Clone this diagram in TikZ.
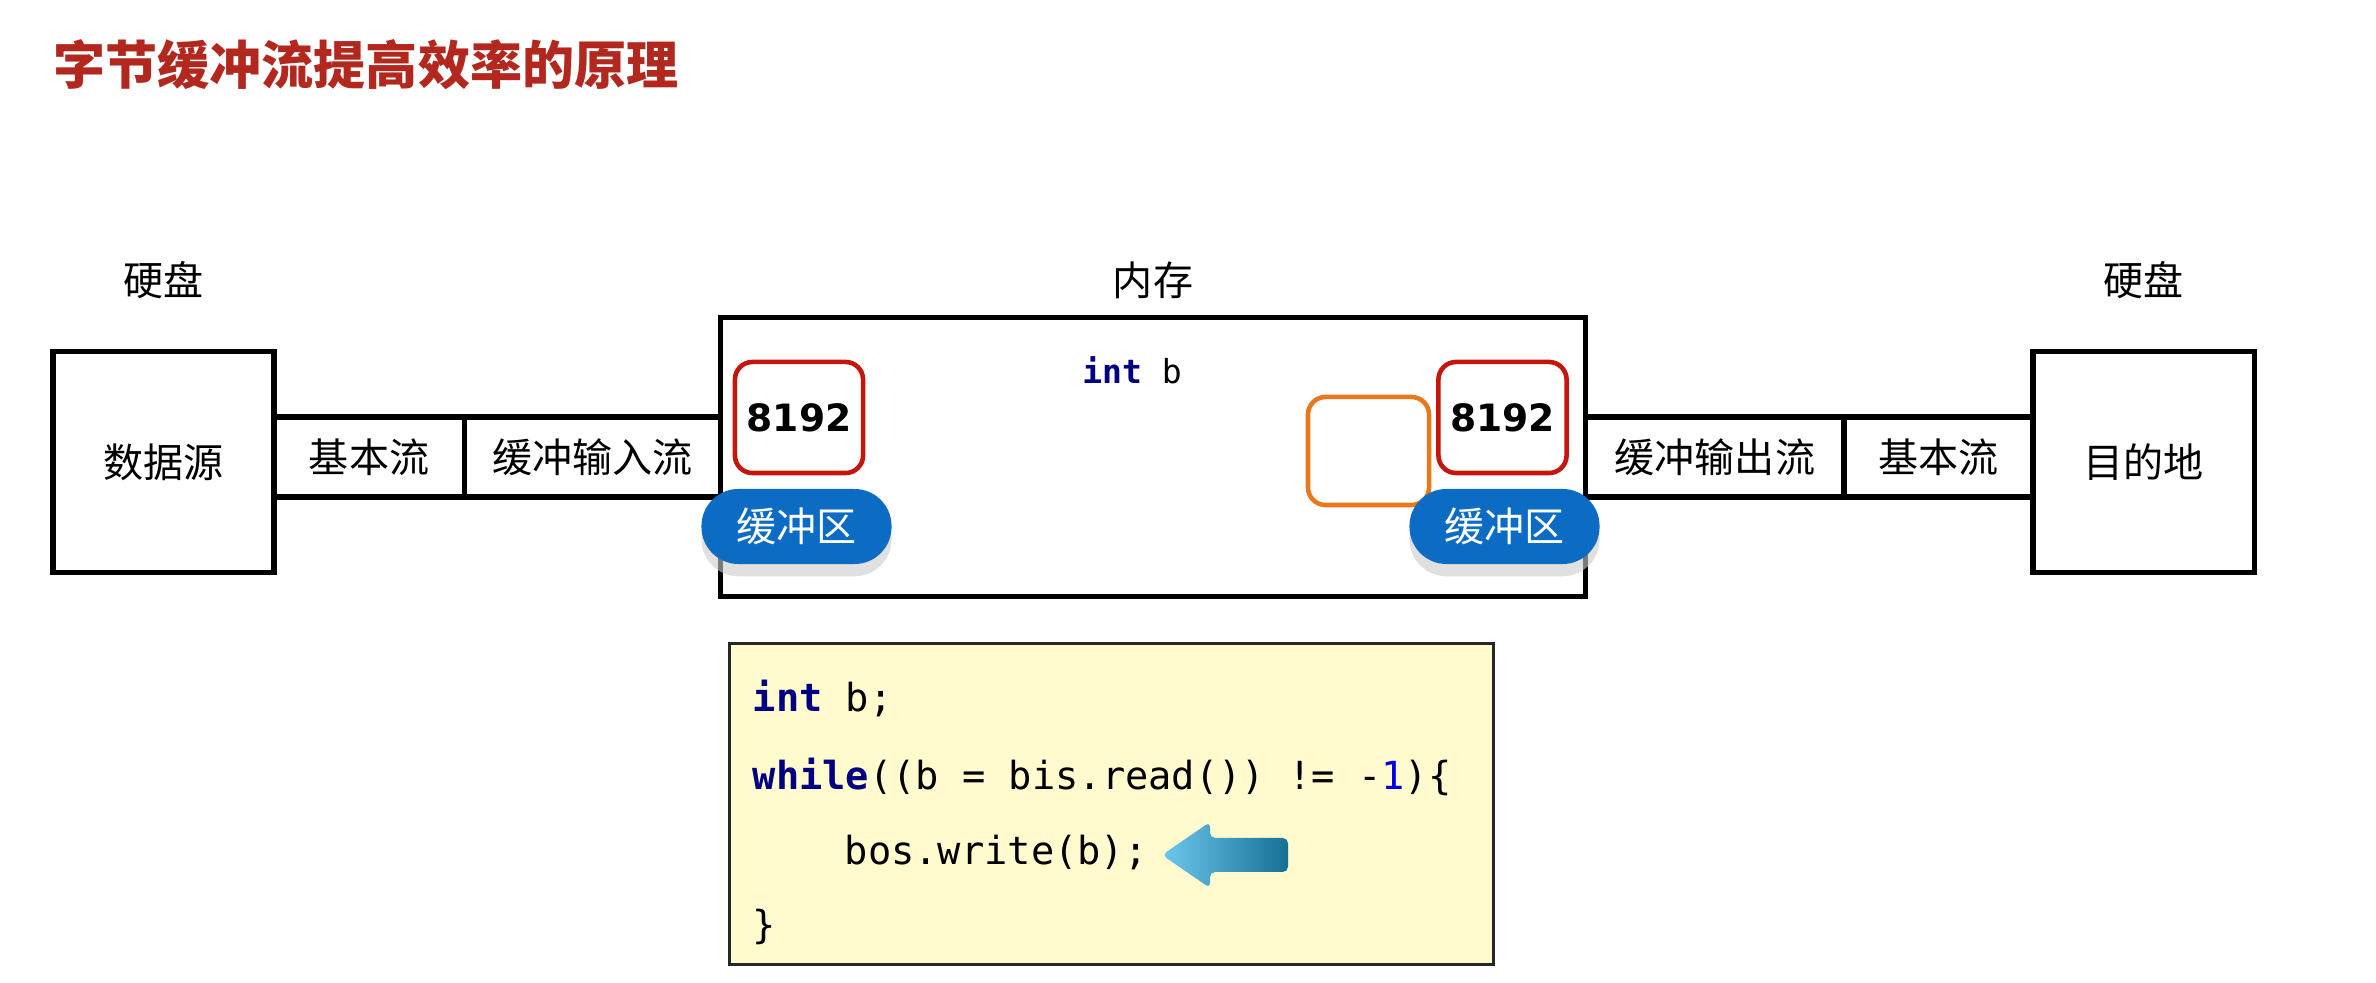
\documentclass[tikz,border=0pt]{standalone}
\usepackage{fontspec}
\usepackage{xcolor}
\usepackage{tikz}
\usetikzlibrary{positioning,shadows}
\newfontfamily\cjk{Noto Sans CJK SC}
\newfontfamily\codefont{DejaVu Sans Mono}
\newfontfamily\numfont{DejaVu Sans}
\definecolor{TitleRed}{RGB}{178,40,30}
\definecolor{BufRed}{RGB}{196,22,12}
\definecolor{ByteOrange}{RGB}{232,120,30}
\definecolor{PillBlue}{RGB}{12,108,196}
\definecolor{CodeYellow}{RGB}{255,251,207}
\definecolor{KwNavy}{RGB}{0,0,128}
\definecolor{NumBlue}{RGB}{0,0,230}
\definecolor{ArrowLight}{RGB}{110,200,238}
\definecolor{ArrowDark}{RGB}{22,112,150}
\tikzset{
  disk/.style={rectangle, draw=black, line width=1.5pt, outer sep=0pt,
    minimum width=2.21cm, minimum height=2.21cm, font=\cjk\fontsize{11.4}{13}\selectfont},
  pipe/.style={rectangle, draw=black, line width=1.5pt, outer sep=0pt, inner sep=0pt,
    minimum height=0.80cm, font=\cjk\fontsize{11.4}{13}\selectfont},
  memory/.style={rectangle, draw=black, line width=1.5pt, outer sep=0pt,
    minimum width=8.65cm, minimum height=2.79cm},
  lbl/.style={font=\cjk\fontsize{11.4}{13}\selectfont},
  bufsize/.style={rectangle, rounded corners=5pt, draw=BufRed, line width=1.3pt, fill=white,
    minimum width=1.21cm, minimum height=1.11cm, font=\numfont\bfseries\fontsize{10.7}{12}\selectfont},
  bytebox/.style={rectangle, rounded corners=5pt, draw=ByteOrange, line width=1.3pt,
    minimum width=1.21cm, minimum height=1.08cm},
  pill/.style={rectangle, rounded corners=0.37cm, fill=PillBlue, text=white,
    minimum width=1.90cm, minimum height=0.75cm, font=\cjk\fontsize{11.4}{13}\selectfont,
    drop shadow={shadow xshift=0pt, shadow yshift=-3.5pt, fill=black!20, opacity=0.6}},
  codebox/.style={rectangle, draw=black!85, fill=CodeYellow, line width=0.9pt,
    minimum width=7.63cm, minimum height=3.20cm},
  codeline/.style={anchor=base west, inner sep=0pt, font=\codefont\fontsize{11}{13}\selectfont}
}
\newcommand{\kw}[1]{{\bfseries\color{KwNavy}#1}}

\begin{document}
\begin{tikzpicture}[x=0.01cm, y=-0.01cm]
  \useasboundingbox (0,0) rectangle (2376,983);
  \node[anchor=west, inner sep=0pt, text=TitleRed, font=\cjk\bfseries\fontsize{14.8}{16}\selectfont]
    (title) at (53,65) {字节缓冲流提高效率的原理};

  % stream chain
  \node[disk] (src) at (163.5,462) {数据源};
  \node[pipe, minimum width=1.90cm, right=0pt of src, yshift=0.05cm] (basicin) {基本流};
  \node[pipe, minimum width=2.56cm, right=0pt of basicin] (bufin) {缓冲输入流};
  \node[memory, right=0pt of bufin] (mem) {};
  \node[pipe, minimum width=2.58cm, right=0pt of mem] (bufout) {缓冲输出流};
  \node[pipe, minimum width=1.89cm, right=0pt of bufout] (basicout) {基本流};
  \node[disk, right=0pt of basicout, yshift=-0.05cm] (dst) {目的地};

  \node[lbl] (disksrc) at (src.north |- 0,280) {硬盘};
  \node[lbl] (memlbl) at (mem.north |- 0,280) {内存};
  \node[lbl] (diskdst) at (dst.north |- 0,280) {硬盘};

  % inside memory
  \node[font=\codefont\fontsize{9.4}{11}\selectfont] (var) at (1132,370) {\kw{int} b};
  \node[bufsize] (inbuf) at (799,417.5) {8192};
  \node[pill] (inpill) at (796.5,526.5) {缓冲区};
  \node[bytebox] (byte) at (1368.5,451) {};
  \node[bufsize] (outbuf) at (1502.5,417.5) {8192};
  \node[pill] (outpill) at (1504.5,526.5) {缓冲区};

  % code
  \node[codebox] (code) at (1111.5,804) {};
  \node[codeline] (line1) at (752,712) {\kw{int} b;};
  \node[codeline] (line2) at (752,790) {\kw{while}((b = bis.read()) != -{\color{NumBlue}1})\{};
  \node[codeline] (line3) at (844,865) {bos.write(b);};
  \node[codeline] (line4) at (752,939) {\}};
  \shade[left color=ArrowLight, right color=ArrowDark, rounded corners=1.5pt]
    (1162,855) -- (1210,822) -- (1210,838) -- (1288,838) -- (1288,872)
    -- (1210,872) -- (1210,888) -- cycle;
\end{tikzpicture}
\end{document}
